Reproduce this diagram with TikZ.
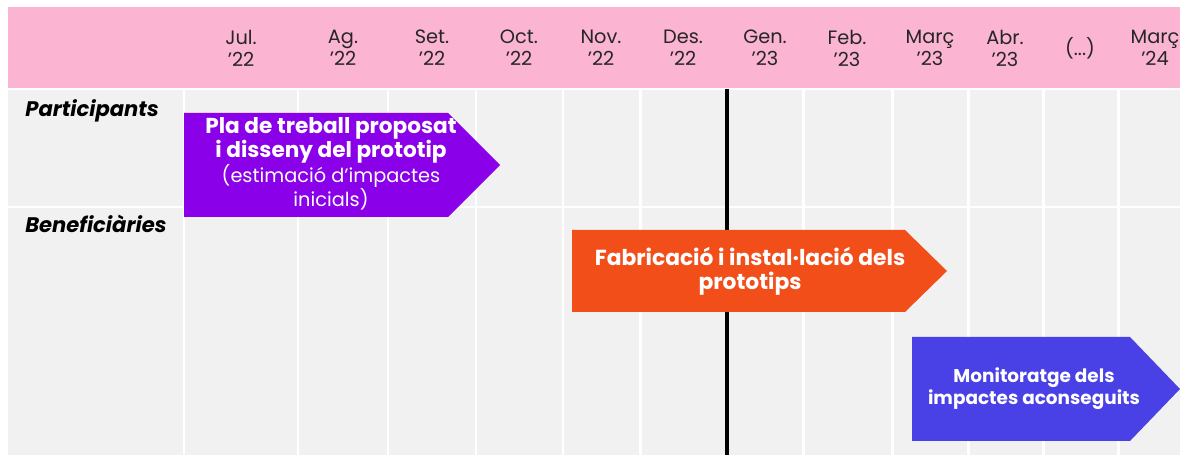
\documentclass[tikz,border=0pt]{standalone}
\usepackage{fontspec}
\setmainfont{Poppins}
\definecolor{headpink}{HTML}{FBB4D1}
\definecolor{bodygray}{HTML}{F1F1F1}
\definecolor{planpurple}{HTML}{8A00E8}
\definecolor{buildorange}{HTML}{F24E1A}
\definecolor{monitorblue}{HTML}{4940E6}
\begin{document}
\begin{tikzpicture}[x=0.02cm, y=-0.02cm,
  gridline/.style={white, line width=1.7pt},
  month/.style={font=\fontsize{11}{12.5}\selectfont, text=black!85, align=center},
  rowlabel/.style={font=\fontsize{12}{13}\selectfont\bfseries\itshape, anchor=base west, inner sep=0pt},
  task/.style={text=white, align=center, font=\fontsize{10.5}{13.5}\selectfont}]
\useasboundingbox (0,0) rectangle (1180,455);

% header and body
\fill[headpink] (8,7) rectangle (1180,88);
\fill[bodygray] (8,90) rectangle (1180,455);
\foreach \x in {184,298,388,476,563,640,803,892,968,1043,1118}
  \draw[gridline] (\x,90) -- (\x,455);
\draw[gridline] (8,207) -- (1180,207);

% months
\foreach \x/\m [count=\i] in {241/{Jul.\\’22}, 343/{Ag.\\’22}, 432/{Set.\\’22},
    519/{Oct.\\’22}, 601/{Nov.\\’22}, 683/{Des.\\’22}, 765/{Gen.\\’23},
    847/{Feb.\\’23}, 930/{Març\\’23}, 1005/{Abr.\\’23}, 1080/{(...)},
    1155/{Març\\’24}}
  \node[month] (m\i) at (\x,48) {\m};

% rows
\node[rowlabel] (part) at (25,117) {Participants};
\node[rowlabel] (benef) at (25,233) {Beneficiàries};

% today
\draw[line width=2.3pt] (727,89) coordinate (today) -- (727,455);

% tasks
\fill[planpurple] (184,113) -- ++(264,0) -- ++(52,52) -- ++(-52,52) -- ++(-264,0) -- cycle;
\node[task, font=\fontsize{11}{13.5}\selectfont] (plan) at (331,164)
  {\fontsize{12.3}{13.8}\selectfont\textbf{Pla de treball proposat}\\
   \fontsize{12.3}{13.8}\selectfont\textbf{i disseny del prototip}\\
   (estimació d’impactes\\ inicials)};

\fill[buildorange] (572,230) -- ++(333,0) -- ++(42,41) -- ++(-42,41) -- ++(-333,0) -- cycle;
\node[task, font=\fontsize{12.4}{13.8}\selectfont] (build) at (750,271)
  {\textbf{Fabricació i instal·lació dels}\\ \textbf{prototips}};

\fill[monitorblue] (912,337) -- ++(218,0) -- ++(50,52) -- ++(-50,52) -- ++(-218,0) -- cycle;
\node[task, font=\fontsize{10.5}{12.5}\selectfont] (monitor) at (1034,389)
  {\textbf{Monitoratge dels}\\ \textbf{impactes aconseguits}};

\end{tikzpicture}
\end{document}
